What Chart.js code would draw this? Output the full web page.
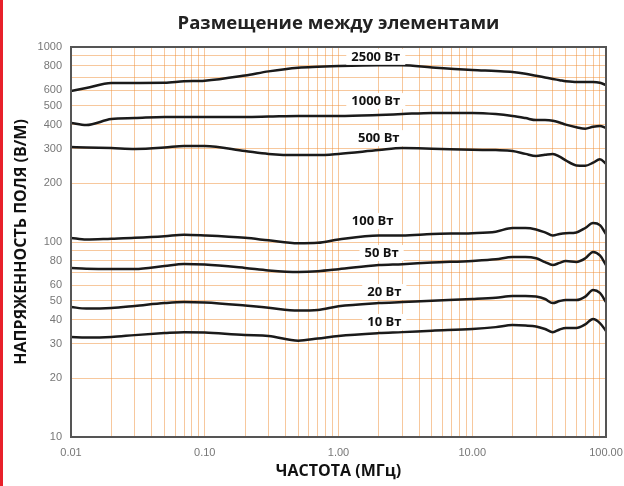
<!DOCTYPE html>
<html>
<head>
<meta charset="utf-8">
<script src="https://cdn.jsdelivr.net/npm/chart.js@4"></script>
<style>
  body { margin: 0; background: #fff; }
  #wrap { position: relative; width: 624px; height: 486px; }
  #redbar { position: absolute; left: 0; top: 0; width: 3px; height: 486px; background: #e8202a; }
</style>
</head>
<body>
<div id="wrap">
  <canvas id="chart"></canvas>
  <div id="redbar"></div>
</div>
<script>
// Частота, МГц
const freq = [0.01, 0.013, 0.02, 0.03, 0.05, 0.07, 0.1, 0.2, 0.3, 0.5, 0.7, 1, 2, 3, 5, 10, 15, 20, 25, 30, 35, 40, 45, 50, 60, 70, 80, 90, 100];

// Напряженность поля, В/м
const w2500 = [595, 616, 654, 654, 655, 667, 672, 715, 750, 783, 792, 799, 806, 806, 785, 762, 753, 745, 730, 712, 698, 686, 676, 667, 662, 661, 661, 655, 638];
const w1000 = [408, 398, 427, 432, 438, 438, 438, 438, 440, 443, 443, 443, 448, 453, 459, 459, 453, 443, 432, 422, 422, 419, 410, 400, 388, 381, 390, 394, 384];
const w500 = [307, 305, 303, 300, 305, 311, 311, 293, 283, 279, 279, 283, 296, 303, 301, 297, 296, 293, 283, 276, 280, 283, 274, 262, 247, 246, 255, 266, 252];
const w100 = [105, 103, 104, 105, 107, 109, 108, 105, 102, 98.5, 99, 103, 108, 108, 110, 111, 113, 118, 118, 116, 112, 108, 110, 111, 112, 118, 125, 122, 110];
const w50 = [73.6, 73, 72.7, 72.7, 75.3, 77.1, 76.6, 73.6, 71.5, 70.2, 70.8, 72.5, 76.2, 77, 78.5, 80, 81.5, 83.8, 83.8, 82.5, 78.9, 76.2, 78.2, 79.9, 79, 82.5, 88.9, 85.3, 76.2];
const w20 = [46.4, 45.6, 45.9, 47, 48.6, 49.2, 48.9, 47.2, 46, 44.5, 44.8, 46.8, 48.6, 49.2, 50, 51, 51.8, 52.9, 52.9, 52.5, 51, 48.6, 49.8, 50.4, 50.4, 52.5, 56.7, 54.8, 49.2];
const w10 = [32.6, 32.4, 32.6, 33.3, 34.1, 34.5, 34.3, 33.3, 33, 31.2, 32, 33, 34.1, 34.5, 35.1, 35.8, 36.6, 37.5, 37.3, 36.9, 35.8, 34.5, 35.6, 36.2, 36.2, 37.8, 40.3, 38.4, 35];

const seriesNames = ['2500 Вт', '1000 Вт', '500 Вт', '100 Вт', '50 Вт', '20 Вт', '10 Вт'];
const seriesValues = [w2500, w1000, w500, w100, w50, w20, w10];

// где стоят подписи кривых (частота, уровень)
const labelFreq = [1.9, 1.9, 2.0, 1.8, 2.1, 2.2, 2.2];
const labelLevel = [890, 528, 341, 128, 87.8, 55.4, 38.9];

// подписи осей
const xTickValues = [0.01, 0.1, 1, 10, 100];
const xTickLabels = ['0.01', '0.10', '1.00', '10.00', '100.00'];
const yTickLabels = [10, 20, 30, 40, 50, 60, 80, 100, 200, 300, 400, 500, 600, 800, 1000];

// сетка 1..9 в каждой декаде
function logGrid(from, to) {
  const out = [];
  for (let d = from; d < to; d *= 10) {
    for (let k = 1; k < 10; k++) out.push(parseFloat((k * d).toPrecision(3)));
  }
  out.push(to);
  return out;
}

const gridColor = 'rgba(240,145,60,0.5)';
const tickFont = { family: 'Liberation Sans', size: 11 };

const datasets = seriesValues.map((vals, i) => ({
  label: seriesNames[i],
  data: freq.map((f, j) => ({ x: f, y: vals[j] })),
  borderColor: '#1a1a1a',
  borderWidth: 2.5,
  pointRadius: 0,
  cubicInterpolationMode: 'monotone',
  fill: false
}));

// подписи на белом фоне
const curveLabels = {
  id: 'curveLabels',
  afterDatasetsDraw(chart) {
    const ctx = chart.ctx;
    const xs = chart.scales.x, ys = chart.scales.y;
    ctx.save();
    ctx.font = 'bold 13px "Open Sans"';
    ctx.textAlign = 'center';
    ctx.textBaseline = 'middle';
    seriesNames.forEach((name, i) => {
      const px = xs.getPixelForValue(labelFreq[i]);
      const py = ys.getPixelForValue(labelLevel[i]);
      const w = ctx.measureText(name).width;
      ctx.fillStyle = '#fff';
      ctx.fillRect(px - w / 2 - 5, py - 8, w + 10, 16);
      ctx.fillStyle = '#111';
      ctx.fillText(name, px, py);
    });
    ctx.restore();
  }
};

// рамка графика
const frame = {
  id: 'frame',
  afterDatasetsDraw(chart) {
    const a = chart.chartArea;
    const ctx = chart.ctx;
    ctx.save();
    ctx.strokeStyle = '#555';
    ctx.lineWidth = 2;
    ctx.strokeRect(a.left, a.top, a.right - a.left, a.bottom - a.top);
    ctx.restore();
  }
};

new Chart(document.getElementById('chart'), {
  type: 'line',
  data: { datasets: datasets },
  options: {
    responsive: true,
    maintainAspectRatio: false,
    animation: false,
    layout: { padding: { left: 0, right: 18, top: 0, bottom: 0 } },
    plugins: {
      legend: { display: false },
      tooltip: { enabled: false },
      title: {
        display: true,
        fullSize: false,
        text: 'Размещение между элементами',
        color: '#222',
        font: { family: 'Open Sans', size: 18.5, weight: 'bold' },
        padding: { top: 13, bottom: 11.8 }
      }
    },
    scales: {
      x: {
        type: 'logarithmic',
        min: 0.01,
        max: 100,
        afterBuildTicks(scale) {
          scale.ticks = logGrid(0.01, 100).map(v => ({ value: v }));
        },
        afterFit(scale) {
          scale.height = 49;
          scale.paddingLeft = 0;
          scale.paddingRight = 0;
        },
        grid: { color: gridColor, drawTicks: false },
        border: { display: false },
        ticks: {
          autoSkip: false,
          maxRotation: 0,
          padding: 9,
          color: '#777',
          font: tickFont,
          callback(v) {
            const i = xTickValues.findIndex(t => Math.abs(t - v) < t * 1e-6);
            return i >= 0 ? xTickLabels[i] : '';
          }
        },
        title: {
          display: true,
          text: 'ЧАСТОТА (МГц)',
          color: '#111',
          font: { family: 'Open Sans', size: 16, weight: 'bold' },
          padding: { top: 0, bottom: 5 }
        }
      },
      y: {
        type: 'logarithmic',
        min: 10,
        max: 1000,
        afterBuildTicks(scale) {
          scale.ticks = logGrid(10, 1000).map(v => ({ value: v }));
        },
        afterFit(scale) {
          scale.width = 71;
          scale.paddingTop = 0;
          scale.paddingBottom = 0;
        },
        grid: { color: gridColor, drawTicks: false },
        border: { display: false },
        ticks: {
          autoSkip: false,
          padding: 9,
          color: '#777',
          font: tickFont,
          callback(v) {
            return yTickLabels.includes(v) ? String(v) : '';
          }
        },
        title: {
          display: true,
          text: 'НАПРЯЖЕННОСТЬ ПОЛЯ (В/М)',
          color: '#111',
          font: { family: 'Open Sans', size: 16, weight: 'bold' },
          padding: { top: 12, bottom: 0 }
        }
      }
    }
  },
  plugins: [curveLabels, frame]
});
</script>
</body>
</html>
